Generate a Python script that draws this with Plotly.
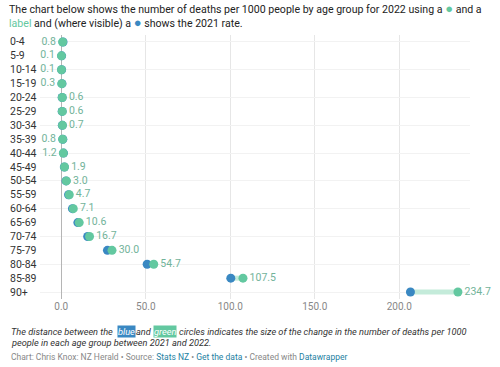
import plotly.graph_objects as go

age_groups = ["0-4", "5-9", "10-14", "15-19", "20-24", "25-29", "30-34", "35-39", "40-44",
              "45-49", "50-54", "55-59", "60-64", "65-69", "70-74", "75-79", "80-84", "85-89", "90+"]
rate_2022 = [0.8, 0.1, 0.1, 0.3, 0.6, 0.6, 0.7, 0.8, 1.2, 1.9, 3.0, 4.7, 7.1, 10.6, 16.7, 30.0, 54.7, 107.5, 234.7]
rate_2021 = [1.0, 0.2, 0.2, 0.4, 0.5, 0.5, 0.6, 0.9, 1.3, 1.8, 2.8, 4.3, 6.6, 9.8, 15.6, 27.3, 50.8, 100.3, 206.6]
x_ticks = [0, 50, 100, 150, 200]
x_tick_labels = ["0.0", "50.0", "100.0", "150.0", "200.0"]

GREEN = "#63c8a0"
BLUE = "#3a88c2"
LINE = "#c4ebda"
LABEL = "#72b39a"
FONT = "Roboto"

W, H = 500, 367
ML, MR, MT, MB = 40, 30, 35, 68
PW = W - ML - MR
PH = H - MT - MB

def px(x):
    return (x - ML) / PW

def py(y):
    return (H - MB - y) / PH

fig = go.Figure()

# connecting lines
for a, v21, v22 in zip(age_groups, rate_2021, rate_2022):
    fig.add_trace(go.Scatter(x=[v21, v22], y=[a, a], mode="lines",
                             line=dict(color=LINE, width=5), hoverinfo="skip", showlegend=False))

fig.add_trace(go.Scatter(x=rate_2021, y=age_groups, mode="markers",
                         marker=dict(color=BLUE, size=9), showlegend=False))
fig.add_trace(go.Scatter(x=rate_2022, y=age_groups, mode="markers",
                         marker=dict(color=GREEN, size=9), showlegend=False))

positions = ["middle left" if b > a else "middle right" for a, b in zip(rate_2022, rate_2021)]
fig.add_trace(go.Scatter(x=rate_2022, y=age_groups, mode="markers+text",
                         marker=dict(size=9, color="rgba(0,0,0,0)"),
                         text=[f"{v:.1f}" for v in rate_2022],
                         textposition=positions,
                         textfont=dict(color=LABEL, size=10.5, family=FONT),
                         cliponaxis=False, showlegend=False, hoverinfo="skip"))

annotations = []
for a in age_groups:
    annotations.append(dict(x=px(8), xref="paper", y=a, yref="y", text=a, showarrow=False,
                            xanchor="left", yanchor="middle",
                            font=dict(size=10.5, color="#333", family=FONT)))

annotations.append(dict(x=px(7), y=py(16), xref="paper", yref="paper", xanchor="left", yanchor="middle",
                        showarrow=False, align="left",
                        text=("The chart below shows the number of deaths per 1000 people by age group for 2022 using a "
                              f"<span style='color:{GREEN};font-size:13px'>●</span> and a<br>"
                              f"<span style='color:{GREEN}'>label</span> and (where visible) a "
                              f"<span style='color:{BLUE};font-size:13px'>●</span> shows the 2021 rate."),
                        font=dict(size=10.6, color="#222", family=FONT)))

note_font = dict(size=9.2, color="#333", family=FONT)
NY1 = py(331)
annotations += [
    dict(x=px(9), y=NY1, xref="paper", yref="paper", xanchor="left", yanchor="middle", showarrow=False,
         text="<i>The distance between the</i>", font=note_font),
    dict(x=px(117), y=NY1, xref="paper", yref="paper", xanchor="left", yanchor="middle", showarrow=False,
         text="<i>blue</i>", font=dict(size=9.2, color="#ffffff", family=FONT), bgcolor=BLUE, borderpad=0),
    dict(x=px(133.5), y=NY1, xref="paper", yref="paper", xanchor="left", yanchor="middle", showarrow=False,
         text="<i>and</i>", font=note_font),
    dict(x=px(153), y=NY1, xref="paper", yref="paper", xanchor="left", yanchor="middle", showarrow=False,
         text="<i>green</i>", font=dict(size=9.2, color="#ffffff", family=FONT), bgcolor=GREEN, borderpad=0),
    dict(x=px(177), y=NY1, xref="paper", yref="paper", xanchor="left", yanchor="middle", showarrow=False,
         text="<i>circles indicates the size of the change in the number of deaths per 1000</i>", font=note_font),
    dict(x=px(9), y=py(342.5), xref="paper", yref="paper", xanchor="left", yanchor="middle", showarrow=False,
         text="<i>people in each age group between 2021 and 2022.</i>", font=note_font),
    dict(x=px(9), y=py(357), xref="paper", yref="paper", xanchor="left", yanchor="middle", showarrow=False,
         text=("Chart: Chris Knox: NZ Herald • Source: <span style='color:#1d81a2'>Stats NZ</span> • "
               "<span style='color:#1d81a2'>Get the data</span> • Created with "
               "<span style='color:#1d81a2'>Datawrapper</span>"),
         font=dict(size=8.5, color="#888", family=FONT)),
]

x0 = 61.3
scale = 1.69
xmin = (ML - x0) / scale
xmax = (W - MR - x0) / scale

fig.update_layout(
    width=W, height=H,
    margin=dict(l=ML, r=MR, t=MT, b=MB),
    paper_bgcolor="white", plot_bgcolor="white",
    font=dict(family=FONT),
    annotations=annotations,
    xaxis=dict(range=[xmin, xmax], tickvals=x_ticks, ticktext=x_tick_labels,
               showgrid=True, gridcolor="#e6e6e6", gridwidth=1, zeroline=True, zerolinecolor="#b5b5b5",
               zerolinewidth=1, showline=False, ticks="", automargin=False,
               tickfont=dict(size=10, color="#888", family=FONT), fixedrange=True),
    yaxis=dict(categoryorder="array", categoryarray=age_groups, range=[18.5, -0.5],
               showticklabels=False, showgrid=True, gridcolor="#f2f2f2", zeroline=False, ticks="",
               automargin=False, fixedrange=True),
)

fig.write_html("out.html", config={"displayModeBar": False},
               post_script="document.body.style.margin='0';document.body.style.overflow='hidden';")
